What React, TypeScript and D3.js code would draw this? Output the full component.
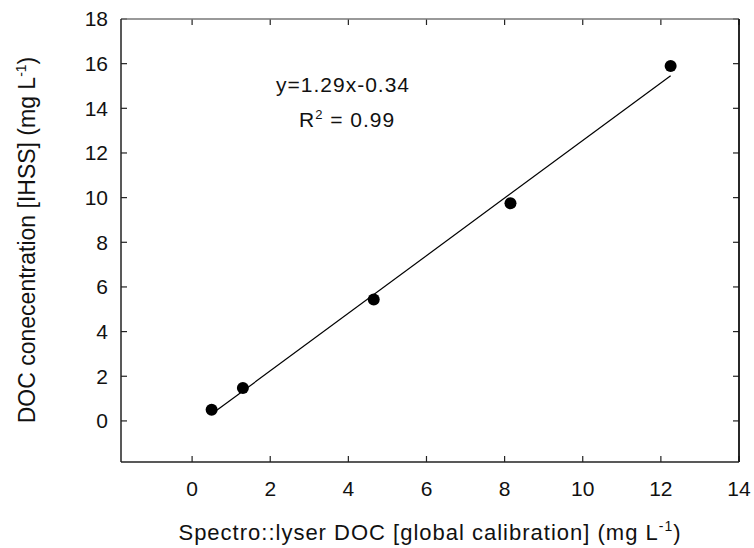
import * as d3 from "d3";
import React, { useEffect, useRef } from "react";

// measured points
const xValues = [0.5, 1.3, 4.65, 8.15, 12.25];
const yValues = [0.5, 1.47, 5.44, 9.75, 15.9];
const xTicks = [0, 2, 4, 6, 8, 10, 12, 14];
const yTicks = [0, 2, 4, 6, 8, 10, 12, 14, 16, 18];
const slope = 1.29;
const intercept = -0.34;

function App() {
  const ref = useRef<SVGSVGElement>(null);

  useEffect(() => {
    const width = 754;
    const height = 548;
    const margin = { top: 19, right: 15, bottom: 86, left: 121 };

    const svg = d3.select(ref.current);
    svg.selectAll("*").remove();

    const x = d3.scaleLinear().domain([-1.82, 14]).range([margin.left, width - margin.right]);
    const y = d3.scaleLinear().domain([-1.84, 18]).range([height - margin.bottom, margin.top]);

    const font = "Arial, 'Liberation Sans', sans-serif";

    // inward ticks on all four sides
    const g = svg.append("g");
    g.selectAll(".xb")
      .data(xTicks)
      .enter()
      .append("line")
      .attr("x1", (d) => x(d))
      .attr("x2", (d) => x(d))
      .attr("y1", y.range()[0])
      .attr("y2", y.range()[0] - 6)
      .attr("stroke", "#222")
      .attr("stroke-width", 1.2);
    g.selectAll(".xt")
      .data(xTicks)
      .enter()
      .append("line")
      .attr("x1", (d) => x(d))
      .attr("x2", (d) => x(d))
      .attr("y1", y.range()[1])
      .attr("y2", y.range()[1] + 6)
      .attr("stroke", "#222")
      .attr("stroke-width", 1.2);
    g.selectAll(".yl")
      .data(yTicks)
      .enter()
      .append("line")
      .attr("x1", x.range()[0])
      .attr("x2", x.range()[0] + 6)
      .attr("y1", (d) => y(d))
      .attr("y2", (d) => y(d))
      .attr("stroke", "#222")
      .attr("stroke-width", 1.2);
    g.selectAll(".yr")
      .data(yTicks)
      .enter()
      .append("line")
      .attr("x1", x.range()[1])
      .attr("x2", x.range()[1] - 6)
      .attr("y1", (d) => y(d))
      .attr("y2", (d) => y(d))
      .attr("stroke", "#222")
      .attr("stroke-width", 1.2);

    // frame
    const [x0, x1] = x.range();
    const [y0, y1] = y.range();
    svg.append("line").attr("x1", x0).attr("x2", x1).attr("y1", y1).attr("y2", y1).attr("stroke", "#777").attr("stroke-width", 1.5);
    svg.append("line").attr("x1", x1).attr("x2", x1).attr("y1", y1).attr("y2", y0).attr("stroke", "#111").attr("stroke-width", 1.8);
    svg.append("line").attr("x1", x0).attr("x2", x1).attr("y1", y0).attr("y2", y0).attr("stroke", "#222").attr("stroke-width", 1.5);
    svg.append("line").attr("x1", x0).attr("x2", x0).attr("y1", y1).attr("y2", y0).attr("stroke", "#222").attr("stroke-width", 1.5);

    // tick labels
    svg.selectAll(".xlab")
      .data(xTicks)
      .enter()
      .append("text")
      .attr("x", (d) => x(d))
      .attr("y", y0 + 34)
      .attr("text-anchor", "middle")
      .attr("font-family", font)
      .attr("font-size", 21)
      .attr("fill", "#111")
      .text((d) => d);
    svg.selectAll(".ylab")
      .data(yTicks)
      .enter()
      .append("text")
      .attr("x", x0 - 13)
      .attr("y", (d) => y(d))
      .attr("dy", "0.35em")
      .attr("text-anchor", "end")
      .attr("font-family", font)
      .attr("font-size", 21)
      .attr("fill", "#111")
      .text((d) => d);

    // regression line
    const xmin = d3.min(xValues) as number;
    const xmax = d3.max(xValues) as number;
    svg.append("line")
      .attr("x1", x(xmin))
      .attr("y1", y(slope * xmin + intercept))
      .attr("x2", x(xmax))
      .attr("y2", y(slope * xmax + intercept))
      .attr("stroke", "#000")
      .attr("stroke-width", 1.2);

    // points
    svg.selectAll(".pt")
      .data(xValues)
      .enter()
      .append("circle")
      .attr("cx", (d) => x(d))
      .attr("cy", (d, i) => y(yValues[i]))
      .attr("r", 6)
      .attr("fill", "#000");

    // equation
    svg.append("text")
      .attr("x", 276)
      .attr("y", 92)
      .attr("font-family", font)
      .attr("font-size", 21)
      .attr("letter-spacing", 1)
      .attr("fill", "#111")
      .text("y=1.29x-0.34");
    const r2 = svg.append("text")
      .attr("x", 299)
      .attr("y", 127)
      .attr("font-family", font)
      .attr("font-size", 21)
      .attr("letter-spacing", 1)
      .attr("fill", "#111");
    r2.append("tspan").text("R");
    r2.append("tspan").attr("dy", -8).attr("font-size", 13).text("2");
    r2.append("tspan").attr("dy", 8).text(" = 0.99");

    // x title
    const xt = svg.append("text")
      .attr("x", 430)
      .attr("y", 540)
      .attr("text-anchor", "middle")
      .attr("font-family", font)
      .attr("font-size", 22)
      .attr("letter-spacing", 1)
      .attr("fill", "#111");
    xt.append("tspan").text("Spectro::lyser DOC [global calibration] (mg L");
    xt.append("tspan").attr("dy", -9).attr("font-size", 14).text("-1");
    xt.append("tspan").attr("dy", 9).text(")");

    // y title
    const yt = svg.append("text")
      .attr("transform", `translate(35, 240) rotate(-90)`)
      .attr("text-anchor", "middle")
      .attr("font-family", font)
      .attr("font-size", 23)
      .attr("fill", "#111");
    yt.append("tspan").text("DOC conecentration [IHSS] (mg L");
    yt.append("tspan").attr("dy", -9).attr("font-size", 14).text("-1");
    yt.append("tspan").attr("dy", 9).text(")");
  }, []);

  return (
    <svg
      ref={ref}
      width={754}
      height={548}
      style={{ position: "absolute", left: 0, top: 0, background: "#fff" }}
    />
  );
}

export default App;
